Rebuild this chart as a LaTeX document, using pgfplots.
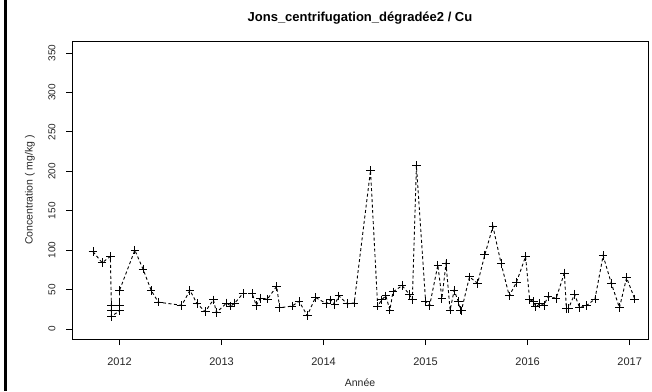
\documentclass[border=0pt]{standalone}
\usepackage{pgfplots}
\pgfplotsset{compat=1.18}
\usepackage{fontspec}
\setmainfont{Liberation Sans}
\pgfplotstableread{
x y
2011.74 98
2011.83 84
2011.91 92
2011.92 30
2011.92 23
2011.92 16
2012.00 23
2012.00 30
2012.00 49
2012.15 100
2012.23 76
2012.31 49
2012.38 34
2012.61 30
2012.69 49
2012.76 32
2012.84 22
2012.92 37
2012.95 21
2013.05 33
2013.09 29
2013.13 33
2013.21 45
2013.30 45
2013.34 30
2013.38 39
2013.45 38
2013.54 54
2013.57 27
2013.69 29
2013.76 35
2013.84 17
2013.92 40
2014.03 32
2014.07 37
2014.11 31
2014.15 42
2014.23 32
2014.30 33
2014.46 201
2014.53 29
2014.57 37
2014.61 42
2014.65 24
2014.68 47
2014.77 55
2014.84 44
2014.87 37
2014.91 207
2015.00 35
2015.04 30
2015.12 81
2015.16 39
2015.20 83
2015.24 24
2015.28 49
2015.32 35
2015.34 24
2015.35 23
2015.43 66
2015.51 58
2015.58 94
2015.66 130
2015.74 83
2015.82 42
2015.89 59
2015.98 92
2016.02 37
2016.06 35
2016.08 28
2016.12 32
2016.16 30
2016.20 41
2016.28 39
2016.36 71
2016.38 26
2016.40 26
2016.46 44
2016.51 27
2016.58 30
2016.66 38
2016.74 93
2016.82 58
2016.90 27
2016.97 65
2017.05 38
}\datatable
\begin{document}
\begin{tikzpicture}
\useasboundingbox (0pt,0pt) rectangle (652pt,391pt);
\fill[black] (4pt,0pt) rectangle (7pt,391pt);
\node[font=\fontsize{13}{15}\selectfont\bfseries] at (360pt,373pt) {Jons\_centrifugation\_dégradée2 / Cu};
\begin{axis}[
  at={(72pt,52pt)}, anchor=south west,
  scale only axis, width=576pt, height=298pt,
  xmin=2011.534, xmax=2017.18, ymin=-12.7, ymax=365.2,
  xtick={2012,2013,2014,2015,2016,2017},
  ytick={0,50,100,150,200,250,300,350},
  xtick pos=lower, ytick pos=left,
  tick align=outside, major tick length=6pt,
  tick style={black, line width=0.8pt},
  axis line style={line width=0.9pt},
  /pgf/number format/assume math mode=true,
  /pgf/number format/1000 sep={},
  xticklabel style={font=\fontsize{11}{13}\selectfont, color=black!85, anchor=center, yshift=-17pt},
  yticklabel={\rotatebox{90}{\pgfmathprintnumber{\tick}}},
  yticklabel style={font=\fontsize{10}{12}\selectfont, color=black!85, anchor=center, xshift=-14pt},
  ylabel={Concentration ( mg/kg )}, xlabel={Année},
  label style={font=\fontsize{10.5}{12}\selectfont, color=black!85},
  xlabel style={at={(axis description cs:0.5,-0.1477)}, anchor=center},
  ylabel style={at={(axis description cs:-0.0729,0.5)}, anchor=center},
  clip=false,
]
\addplot[black, line width=0.9pt, dash pattern=on 3pt off 2.5pt,
  mark=+, mark size=4.3pt, mark options={solid, line width=0.9pt}]
  table[x=x, y=y] {\datatable};
\end{axis}
\end{tikzpicture}
\end{document}
